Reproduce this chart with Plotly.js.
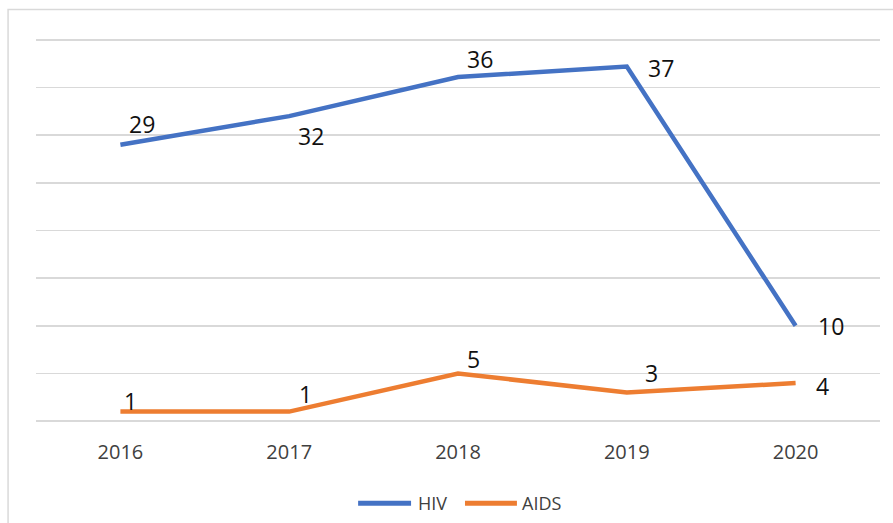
<!DOCTYPE html>
<html>
<head>
<meta charset="utf-8">
<script src="https://cdn.plot.ly/plotly-3.0.1.min.js"></script>
<style>html,body{margin:0;padding:0;background:#fff;}#chart{width:893px;height:523px;}</style>
</head>
<body>
<div id="chart"></div>
<script>
const years = ['2016', '2017', '2018', '2019', '2020'];
const seriesNames = ['HIV', 'AIDS'];
const seriesColors = ['#4472C4', '#ED7D31'];
const hiv = [29, 32, 36, 37, 10];
const aids = [1, 1, 5, 3, 4];
const hivPlotted = [29, 32, 36.1, 37.2, 10];
const aidsPlotted = [1, 1, 5, 3, 4];
// label offsets in pixels (style only)
const hivLabelShift = [[22, 21], [22, -20], [22, 18], [34, -1], [35, 0]];
const aidsLabelShift = [[10, 11], [16, 18], [15, 14], [25, 20], [27, -3]];

const FONT = '"Open Sans", "Noto Sans", sans-serif';

const traces = [
  {x: years, y: hivPlotted, name: seriesNames[0], type: 'scatter', mode: 'lines',
   line: {color: seriesColors[0], width: 4.5}, hoverinfo: 'skip'},
  {x: years, y: aidsPlotted, name: seriesNames[1], type: 'scatter', mode: 'lines',
   line: {color: seriesColors[1], width: 4.5}, hoverinfo: 'skip'}
];

const annotations = [];
hiv.forEach((v, i) => annotations.push({xref: 'x', yref: 'y', x: i, y: hivPlotted[i], text: String(v), showarrow: false,
  xshift: hivLabelShift[i][0], yshift: hivLabelShift[i][1], font: {family: FONT, size: 23, color: '#111'}}));
aids.forEach((v, i) => annotations.push({xref: 'x', yref: 'y', x: i, y: aidsPlotted[i], text: String(v), showarrow: false,
  xshift: aidsLabelShift[i][0], yshift: aidsLabelShift[i][1], font: {family: FONT, size: 23, color: '#111'}}));

// custom legend (line swatches + labels), positions in paper units
const W = 845, L = 35.5;
const px = p => (p - L) / W;
const legY = -0.2047;
const legSwatch = [[358, 411], [465, 517]];
const legText = [416, 520];
const shapes = [
  {type: 'rect', xref: 'paper', yref: 'paper', x0: -0.0331, x1: 1.1, y0: -0.4, y1: 1.0709,
   line: {color: '#d9d9d9', width: 1.5}, fillcolor: 'rgba(0,0,0,0)', layer: 'below'}
];
seriesNames.forEach((n, i) => {
  shapes.push({type: 'line', xref: 'paper', yref: 'paper', x0: px(legSwatch[i][0]), x1: px(legSwatch[i][1]),
    y0: legY, y1: legY, line: {color: seriesColors[i], width: 5}});
  annotations.push({xref: 'paper', yref: 'paper', x: px(legText[i]), y: legY, xanchor: 'left', yanchor: 'middle',
    text: n, showarrow: false, font: {family: FONT, size: 18, color: '#404040'}});
});

const layout = {
  width: 893, height: 523,
  margin: {l: 35.5, r: 12.5, t: 37.1, b: 99.1, autoexpand: false},
  paper_bgcolor: '#fff', plot_bgcolor: '#fff',
  font: {family: FONT, color: '#404040'},
  showlegend: false,
  xaxis: {type: 'category', range: [-0.5, 4.5], showgrid: false, zeroline: false, showline: false,
    ticks: '', ticklabelstandoff: 14, tickfont: {family: FONT, size: 20, color: '#404040'}},
  yaxis: {range: [-0.3, 40.3], dtick: 5, tick0: 0, showticklabels: false, zeroline: false, showline: false,
    gridcolor: '#d9d9d9', gridwidth: 1.7, ticks: ''},
  shapes: shapes,
  annotations: annotations
};

Plotly.newPlot('chart', traces, layout, {staticPlot: true, displayModeBar: false});
</script>
</body>
</html>
